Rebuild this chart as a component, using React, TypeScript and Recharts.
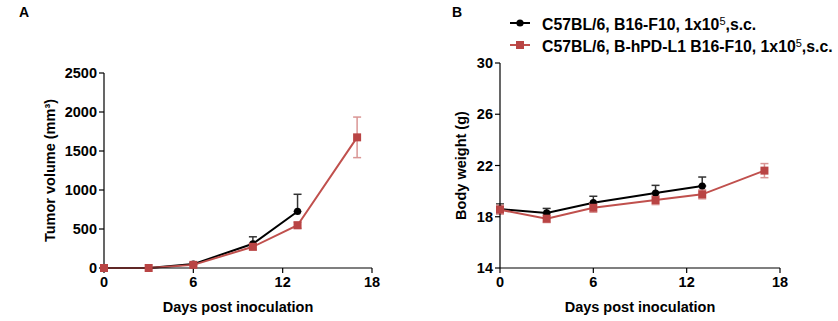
import { LineChart, Line, XAxis, YAxis, ErrorBar } from 'recharts';

const days = [0, 3, 6, 10, 13, 17];
const seriesNames = ['C57BL/6, B16-F10, 1x10', 'C57BL/6, B-hPD-L1 B16-F10, 1x10'];
const xTicks = [0, 6, 12, 18];

// tumor volume (mm3), mean and SEM
const volWt = [0, 0, 50, 310, 725];
const volWtErr = [0, 0, 15, 90, 220];
const volHu = [0, 0, 40, 272, 548, 1675];
const volHuErr = [0, 0, 12, 40, 40, 260];
const volTicks = [0, 500, 1000, 1500, 2000, 2500];

// body weight (g)
const bwWt = [18.6, 18.3, 19.1, 19.85, 20.4];
const bwWtErr = [0.4, 0.35, 0.5, 0.6, 0.7];
const bwHu = [18.55, 17.85, 18.7, 19.3, 19.75, 21.6];
const bwHuErr = [0.35, 0.3, 0.35, 0.35, 0.35, 0.55];
const bwTicks = [14, 18, 22, 26, 30];

const BLACK = '#000000';
const RED = '#c0504d';
const RED_ERR = '#d99594';
const FONT = 'Arial, "Liberation Sans", sans-serif';

function build(wt: number[], wtErr: number[], hu: number[], huErr: number[]) {
  return days.map((d, i) => ({
    day: d,
    wt: wt[i],
    wtErr: wt[i] === undefined ? undefined : [0, wtErr[i]],
    hu: hu[i],
    huErr: huErr[i],
  }));
}

const volData = build(volWt, volWtErr, volHu, volHuErr);
const bwData = build(bwWt, bwWtErr, bwHu, bwHuErr);

const Square = (props: any) => {
  const { cx, cy } = props;
  if (cx == null || cy == null) return null;
  return <rect x={cx - 4} y={cy - 4} width={8} height={8} fill="#b94444" />;
};

const tickStyle = { fill: '#000', fontSize: 14.5, fontWeight: 700, fontFamily: FONT };

function Panel(props: {
  data: any[];
  ticks: number[];
  domain: [number, number];
  yLabel: any;
  yAxisWidth: number;
  top: number;
  right: number;
}) {
  const { data, ticks, domain, yLabel, yAxisWidth, top, right } = props;
  return (
    <LineChart
      width={419}
      height={321}
      data={data}
      margin={{ top, right, bottom: 0, left: 0 }}
    >
      <XAxis
        dataKey="day"
        type="number"
        domain={[0, 18]}
        ticks={xTicks}
        height={53}
        stroke="#000"
        strokeWidth={1.2}
        tickSize={5}
        tick={tickStyle}
        tickMargin={4}
        label={{
          value: 'Days post inoculation',
          position: 'insideBottom',
          offset: 9,
          style: { fill: '#000', fontSize: 14.5, fontWeight: 700, fontFamily: FONT },
        }}
      />
      <YAxis
        type="number"
        domain={domain}
        ticks={ticks}
        width={yAxisWidth}
        stroke="#000"
        strokeWidth={1.2}
        tickSize={5}
        tickMargin={2}
        tick={tickStyle}
        label={yLabel}
      />
      <Line
        dataKey="wt"
        stroke={BLACK}
        strokeWidth={2}
        dot={{ r: 3.6, fill: BLACK, stroke: BLACK, strokeWidth: 0 }}
        isAnimationActive={false}
        connectNulls={false}
      >
        <ErrorBar dataKey="wtErr" width={4} stroke="#333" strokeWidth={1.5} direction="y" />
      </Line>
      <Line
        dataKey="hu"
        stroke={RED}
        strokeWidth={2}
        dot={<Square />}
        isAnimationActive={false}
      >
        <ErrorBar dataKey="huErr" width={4} stroke={RED_ERR} strokeWidth={1.5} direction="y" />
      </Line>
    </LineChart>
  );
}

const LegendRow = ({ name, color, square }: { name: string; color: string; square: boolean }) => (
  <div style={{ display: 'flex', alignItems: 'center', height: 22 }}>
    <svg width={30} height={12} style={{ marginRight: 2 }}>
      <line x1={0} y1={6} x2={20} y2={6} stroke={color} strokeWidth={2} />
      {square ? (
        <rect x={6} y={2} width={8} height={8} fill="#b94444" />
      ) : (
        <circle cx={10} cy={6} r={3.6} fill={color} />
      )}
    </svg>
    <span>
      {name}
      <sup style={{ fontSize: 11, fontWeight: 400, position: 'relative', top: 1 }}>5</sup>,s.c.
    </span>
  </div>
);

export default function App() {
  return (
    <div style={{ position: 'absolute', left: 0, top: 0, width: 838, height: 321, background: '#fff' }}>
      <div style={{ position: 'absolute', left: 19, top: 4, fontFamily: FONT, fontWeight: 700, fontSize: 14 }}>A</div>
      <div style={{ position: 'absolute', left: 452, top: 4, fontFamily: FONT, fontWeight: 700, fontSize: 14 }}>B</div>
      <div style={{ position: 'absolute', left: 0, top: 0 }}>
        <Panel
          data={volData}
          ticks={volTicks}
          domain={[0, 2500]}
          yAxisWidth={104}
          top={73}
          right={47}
          yLabel={{
            value: 'Tumor volume (mm³)',
            angle: -90,
            position: 'insideLeft',
            offset: 50,
            style: { textAnchor: 'middle', fill: '#000', fontSize: 14.5, fontWeight: 700, fontFamily: FONT },
          }}
        />
      </div>
      <div style={{ position: 'absolute', left: 419, top: 0 }}>
        <Panel
          data={bwData}
          ticks={bwTicks}
          domain={[14, 30]}
          yAxisWidth={81}
          top={63}
          right={58}
          yLabel={{
            value: 'Body weight (g)',
            angle: -90,
            position: 'insideLeft',
            offset: 42,
            style: { textAnchor: 'middle', fill: '#000', fontSize: 14.5, fontWeight: 700, fontFamily: FONT },
          }}
        />
      </div>
      <div
        style={{
          position: 'absolute',
          left: 510,
          top: 12,
          fontFamily: FONT,
          fontWeight: 700,
          fontSize: 15.8,
          lineHeight: '22px',
        }}
      >
        <LegendRow name={seriesNames[0]} color={BLACK} square={false} />
        <LegendRow name={seriesNames[1]} color={RED} square={true} />
      </div>
    </div>
  );
}
